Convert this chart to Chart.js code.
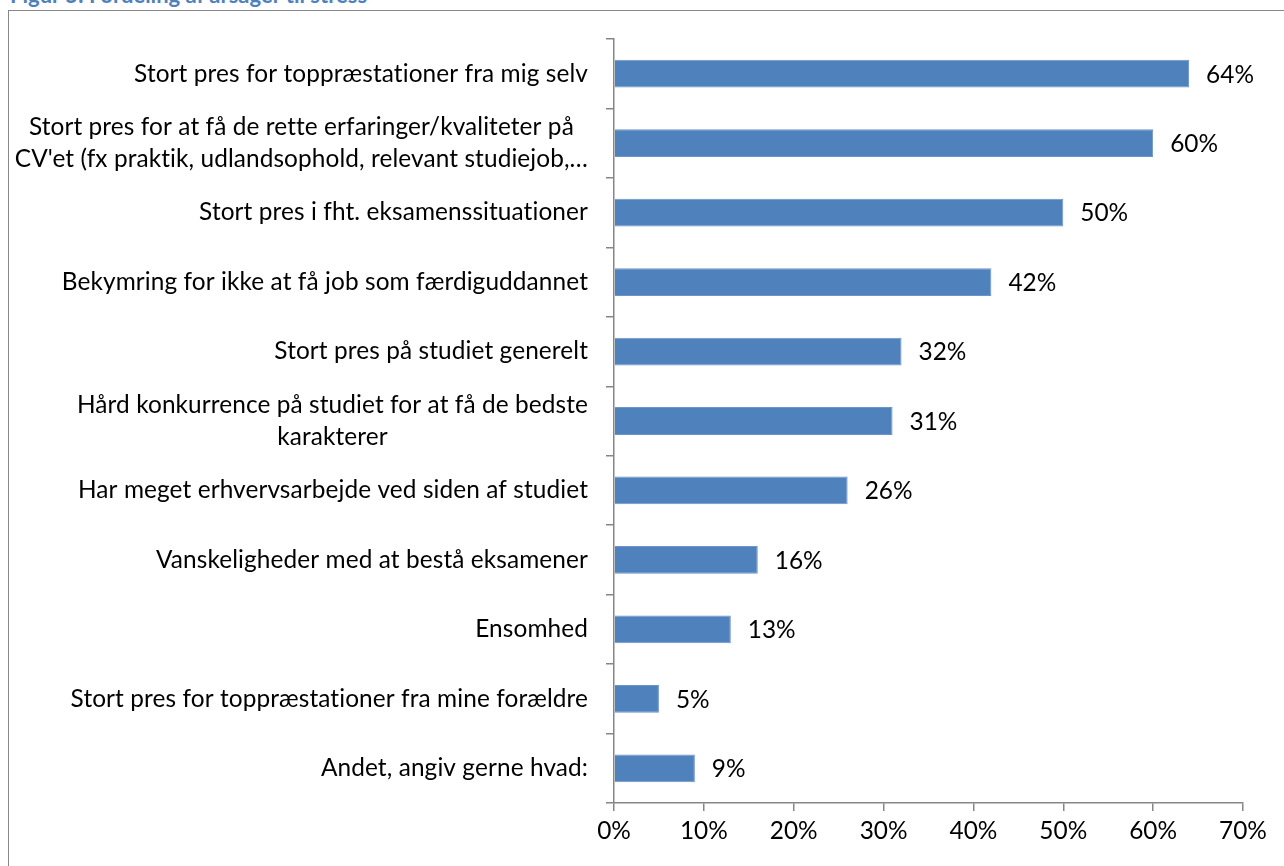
<!DOCTYPE html>
<html lang="da">
<head>
<meta charset="utf-8">
<title>Fordeling af årsager til stress</title>
<script src="https://cdn.jsdelivr.net/npm/chart.js@4"></script>
<style>
  html, body { margin: 0; padding: 0; background: #fff; overflow: hidden; }
  body { width: 1284px; height: 866px; position: relative; }
  .fig-title {
    position: absolute; left: 10px; top: -16px;
    font: bold 22px/1 Lato, sans-serif; color: #4f81bd; white-space: nowrap;
    font-variant-ligatures: none;
  }
  .frame {
    position: absolute; left: 8px; top: 9.5px; width: 1400px; height: 1000px;
    border: 1.5px solid #878787;
  }
  #chart { position: absolute; left: 0; top: 0; }
</style>
</head>
<body>
<div class="fig-title">Figur 5: Fordeling af årsager til stress</div>
<div class="frame"></div>
<canvas id="chart" width="1284" height="866"></canvas>
<script>
// årsager (long ones are split on two lines)
const categories = [
  "Stort pres for toppræstationer fra mig selv",
  ["Stort pres for at få de rette erfaringer/kvaliteter på", "CV'et (fx praktik, udlandsophold, relevant studiejob,…"],
  "Stort pres i fht. eksamenssituationer",
  "Bekymring for ikke at få job som færdiguddannet",
  "Stort pres på studiet generelt",
  ["Hård konkurrence på studiet for at få de bedste", "karakterer"],
  "Har meget erhvervsarbejde ved siden af studiet",
  "Vanskeligheder med at bestå eksamener",
  "Ensomhed",
  "Stort pres for toppræstationer fra mine forældre",
  "Andet, angiv gerne hvad:"
];
const shares = [64, 60, 50, 42, 32, 31, 26, 16, 13, 5, 9];
const axisMax = 70;
const axisStep = 10;

const AXIS_GREY = '#868686';
const BAR_BLUE = '#4f81bd';

// a tiny letter spacing keeps Lato from joining "ti" / "ft" into ligatures
function noLigatures(ctx) {
  if ('letterSpacing' in ctx) ctx.letterSpacing = '0.1px';
}

// pick a size so the Lato text runs about as wide as the Calibri original
const probe = document.createElement('canvas').getContext('2d');
noLigatures(probe);
probe.font = '26px Lato';
const fontSize = Math.round(26 * 454 / probe.measureText(categories[0]).width * 10) / 10;
const font = { family: 'Lato', size: fontSize };

// category labels, wrapped lines centred on each other and right aligned as a block
const categoryLabels = {
  id: 'categoryLabels',
  afterDraw(chart) {
    const { ctx, scales: { y } } = chart;
    const right = chart.chartArea.left - 26;
    const lineHeight = 32;
    ctx.save();
    noLigatures(ctx);
    ctx.font = fontSize + 'px Lato';
    ctx.fillStyle = '#000';
    ctx.textAlign = 'center';
    ctx.textBaseline = 'middle';
    categories.forEach((lab, i) => {
      const lines = Array.isArray(lab) ? lab : [lab];
      const widest = Math.max(...lines.map(l => ctx.measureText(l).width));
      const cx = right - widest / 2;
      const cy = y.getPixelForTick(i);
      lines.forEach((l, k) => {
        ctx.fillText(l, cx, cy + (k - (lines.length - 1) / 2) * lineHeight);
      });
    });
    ctx.restore();
  }
};

// percentage written just past the end of each bar
const valueLabels = {
  id: 'valueLabels',
  afterDatasetsDraw(chart) {
    const { ctx } = chart;
    const meta = chart.getDatasetMeta(0);
    ctx.save();
    ctx.font = fontSize + 'px Lato';
    ctx.fillStyle = '#000';
    ctx.textAlign = 'left';
    ctx.textBaseline = 'middle';
    meta.data.forEach((bar, i) => {
      ctx.fillText(shares[i] + '%', bar.x + 17, bar.y + 1);
    });
    ctx.restore();
  }
};

new Chart(document.getElementById('chart'), {
  type: 'bar',
  data: {
    labels: categories,
    datasets: [{
      data: shares,
      backgroundColor: BAR_BLUE,
      borderColor: '#6d95c8',
      borderWidth: 1,
      borderSkipped: 'left',
      barPercentage: 0.4,
      categoryPercentage: 1
    }]
  },
  options: {
    indexAxis: 'y',
    responsive: false,
    animation: false,
    events: [],
    layout: { padding: { top: 39, right: 41, bottom: 0, left: 0 } },
    plugins: { legend: { display: false }, tooltip: { enabled: false } },
    scales: {
      x: {
        min: 0,
        max: axisMax,
        ticks: {
          stepSize: axisStep,
          color: '#000',
          font: font,
          padding: 6,
          callback: v => v + '%'
        },
        grid: { drawOnChartArea: false, tickLength: 8, color: AXIS_GREY, lineWidth: 1.5 },
        border: { color: AXIS_GREY, width: 1.5 },
        afterFit(scale) { scale.height = 63; }
      },
      y: {
        ticks: { display: false },
        grid: { offset: true, drawOnChartArea: false, tickLength: 8, color: AXIS_GREY, lineWidth: 1.5 },
        border: { color: AXIS_GREY, width: 1.5 },
        afterFit(scale) { scale.width = 614; }
      }
    }
  },
  plugins: [categoryLabels, valueLabels]
});
</script>
</body>
</html>
